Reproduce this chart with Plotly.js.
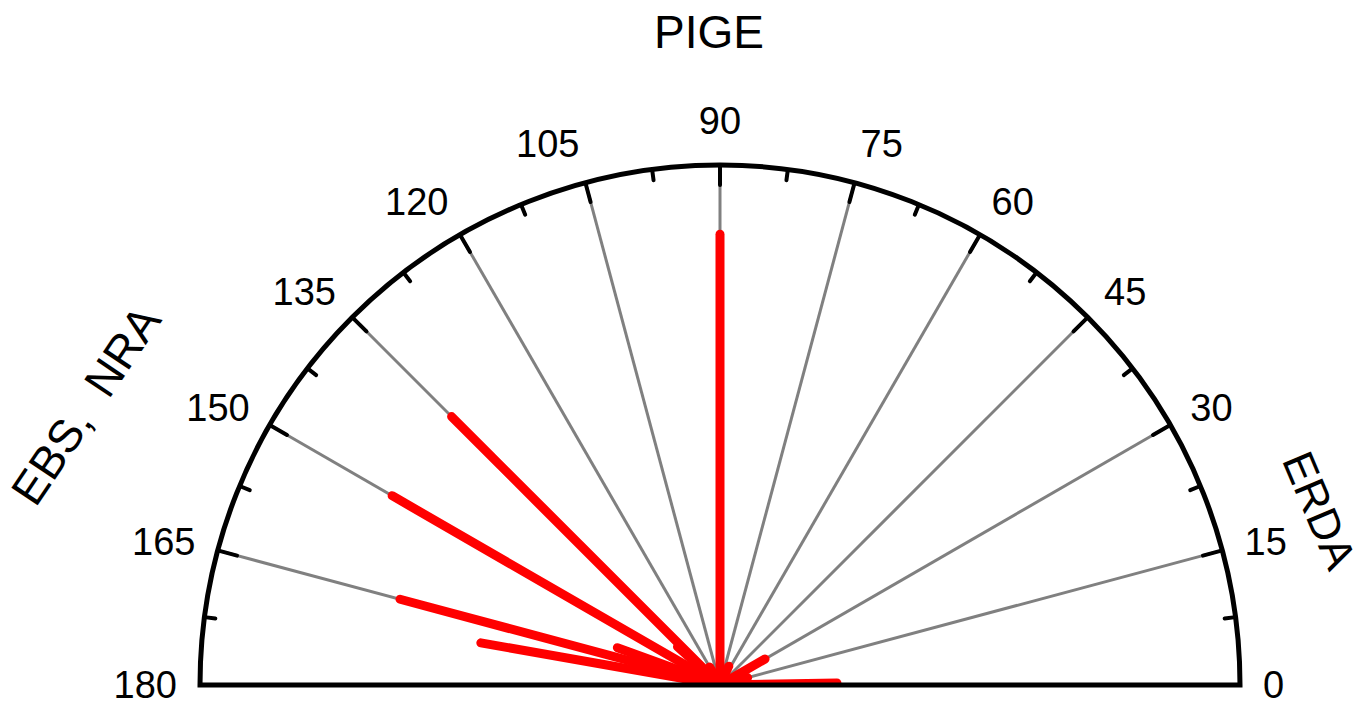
<!DOCTYPE html>
<html>
<head>
<meta charset="utf-8">
<script src="https://cdn.plot.ly/plotly-3.0.1.min.js"></script>
<style>
html,body{margin:0;padding:0;background:#fff;}
#chart{width:1369px;height:705px;}
.polarlayer .trace path.js-line{stroke-linecap:round;stroke-linejoin:round;}
</style>
</head>
<body>
<div id="chart"></div>
<script>
// Angles (degrees) of the measured directions and their relative lengths (% of full radius)
var angles  = [1, 15, 30, 65, 90, 120, 135, 138, 150, 160, 165, 170, 178];
var lengths = [22.5, 5.5, 10, 4, 86.7, 4, 73, 11, 72.8, 21, 63.7, 46.7, 3];

// Angular tick labels
var tickAngles = [0, 15, 30, 45, 60, 75, 90, 105, 120, 135, 150, 165, 180];
var tickLabels = ["0", "15", "30", "45", "60", "75", "90", "105", "120", "135", "150", "165", "180"];
var minorTickAngles = [7.5, 22.5, 37.5, 52.5, 67.5, 82.5, 97.5, 112.5, 127.5, 142.5, 157.5, 172.5];

// Build radial segments from centre
var segR = [], segT = [];
for (var i = 0; i < angles.length; i++) {
  segR.push(0, lengths[i], null);
  segT.push(angles[i], angles[i], null);
}
// Tick marks drawn inward from the rim (major 20px, minor 11px of a 520px radius)
var tkR = [], tkT = [];
for (var j = 0; j < tickAngles.length; j++) {
  tkR.push(100 - 20 / 5.2, 100, null);
  tkT.push(tickAngles[j], tickAngles[j], null);
}
for (var k = 0; k < minorTickAngles.length; k++) {
  tkR.push(100 - 11 / 5.2, 100, null);
  tkT.push(minorTickAngles[k], minorTickAngles[k], null);
}

var font = "Liberation Sans, Arial, sans-serif";

var traces = [
  {
    type: "scatterpolar", mode: "lines", r: tkR, theta: tkT, cliponaxis: false,
    line: {color: "#000", width: 4}, hoverinfo: "skip", showlegend: false, connectgaps: false
  },
  {
    type: "scatterpolar", mode: "lines", r: segR, theta: segT,
    line: {color: "#ff0000", width: 9}, hoverinfo: "skip", showlegend: false, connectgaps: false
  }
];

var layout = {
  width: 1369, height: 705,
  margin: {l: 0, r: 0, t: 0, b: 0},
  paper_bgcolor: "#fff",
  showlegend: false,
  font: {family: font, color: "#000"},
  polar: {
    domain: {x: [200/1369, 1240/1369], y: [20/705, 540/705]},
    sector: [0, 180],
    bgcolor: "#fff",
    radialaxis: {visible: false, range: [0, 100], showgrid: false},
    angularaxis: {
      direction: "counterclockwise", rotation: 0,
      tickmode: "array", tickvals: tickAngles, ticktext: tickLabels,
      ticks: "outside", ticklen: 13, tickwidth: 1, tickcolor: "rgba(0,0,0,0)",
      showline: true, linecolor: "#000", linewidth: 5,
      showgrid: true, gridcolor: "#808080", gridwidth: 3,
      tickfont: {family: font, size: 38, color: "#000"}
    }
  },
  annotations: [
    {text: "PIGE", xref: "paper", yref: "paper", x: 709/1369, y: 1 - 32/705,
     xanchor: "center", yanchor: "middle", showarrow: false,
     font: {family: font, size: 46, color: "#000"}},
    {text: "EBS,&nbsp; NRA", xref: "paper", yref: "paper", x: 86/1369, y: 1 - 405/705,
     xanchor: "center", yanchor: "middle", showarrow: false, textangle: -56,
     font: {family: font, size: 46, color: "#000"}},
    {text: "ERDA", xref: "paper", yref: "paper", x: 1320/1369, y: 1 - 510/705,
     xanchor: "center", yanchor: "middle", showarrow: false, textangle: 67,
     font: {family: font, size: 44, color: "#000"}}
  ]
};

Plotly.newPlot("chart", traces, layout, {displayModeBar: false, staticPlot: true});
</script>
</body>
</html>
